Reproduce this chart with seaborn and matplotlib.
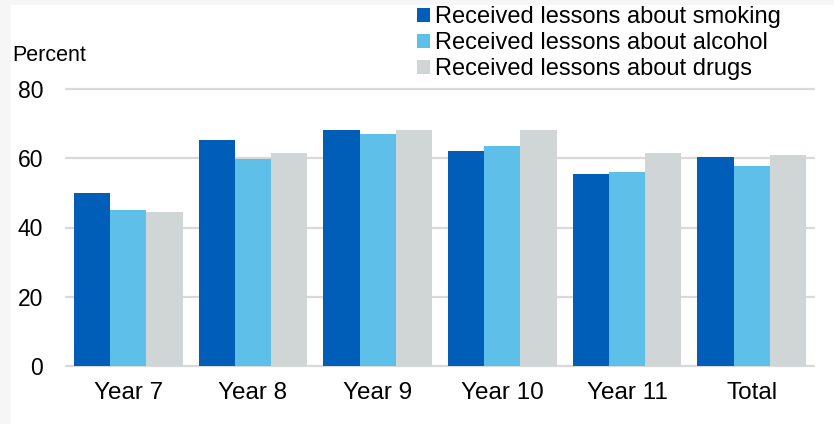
import matplotlib
matplotlib.use("Agg")
import matplotlib.pyplot as plt
import seaborn as sns
import pandas as pd
from matplotlib.patches import Rectangle, Patch

# Share of pupils who received lessons, by school year (percent)
years = ["Year 7", "Year 8", "Year 9", "Year 10", "Year 11", "Total"]
smoking = [49.9, 65.2, 68.3, 62.2, 55.4, 60.3]
alcohol = [45.0, 59.8, 67.1, 63.4, 56.1, 57.9]
drugs = [44.4, 61.6, 68.3, 68.3, 61.6, 60.9]
series = [
    "Received lessons about smoking",
    "Received lessons about alcohol",
    "Received lessons about drugs",
]
yticks = [0, 20, 40, 60, 80]
colors = ["#005EB8", "#5EC0E8", "#D0D5D6"]

df = pd.DataFrame({
    "year": years * 3,
    "pct": smoking + alcohol + drugs,
    "series": [s for s in series for _ in years],
})

sns.set_style("white")
plt.rcParams["font.family"] = ["Liberation Sans", "DejaVu Sans"]
plt.rcParams["text.color"] = "black"

fig = plt.figure(figsize=(8.34, 4.24), dpi=100, facecolor="#f6f6f6")
fig.patches.append(Rectangle((11 / 834, 0), 1, 1 - 5 / 424, transform=fig.transFigure,
                             facecolor="white", edgecolor="none", zorder=-10))

ax = fig.add_axes([66 / 834, (424 - 366) / 424, (814 - 66) / 834, (366 - 89) / 424])
ax.set_facecolor("none")

sns.barplot(data=df, x="year", y="pct", hue="series", hue_order=series,
            palette=colors, saturation=1, width=0.87, edgecolor="none",
            linewidth=0, ax=ax, legend=False)

ax.set_ylim(0, 80)
ax.set_yticks(yticks)
ax.set_axisbelow(True)
ax.yaxis.grid(True, color="#d9d9d9", linewidth=1.6)
for gl in ax.get_ygridlines():
    gl.set_clip_on(False)
for sp in ax.spines.values():
    sp.set_visible(False)
ax.set_xlabel("")
ax.set_ylabel("")
ax.tick_params(axis="y", length=0, pad=16.5, labelsize=16.5, labelcolor="black")
ax.tick_params(axis="x", length=0, pad=11.5, labelsize=17.5, labelcolor="black")

fig.text(12 / 834, 1 - 61 / 424, "Percent", fontsize=15.5, va="baseline", ha="left",
         color="black")

handles = [Patch(facecolor=c, edgecolor="none") for c in colors]
leg = fig.legend(handles, series, loc="upper left", bbox_to_anchor=(417 / 834, 1 - 6 / 424),
                 frameon=False, fontsize=17, handlelength=0.55, handleheight=0.55,
                 handletextpad=0.2, labelspacing=0.17, borderpad=0, borderaxespad=0)
for t in leg.get_texts():
    t.set_color("black")

fig.savefig("out.png", dpi=100, facecolor=fig.get_facecolor())
